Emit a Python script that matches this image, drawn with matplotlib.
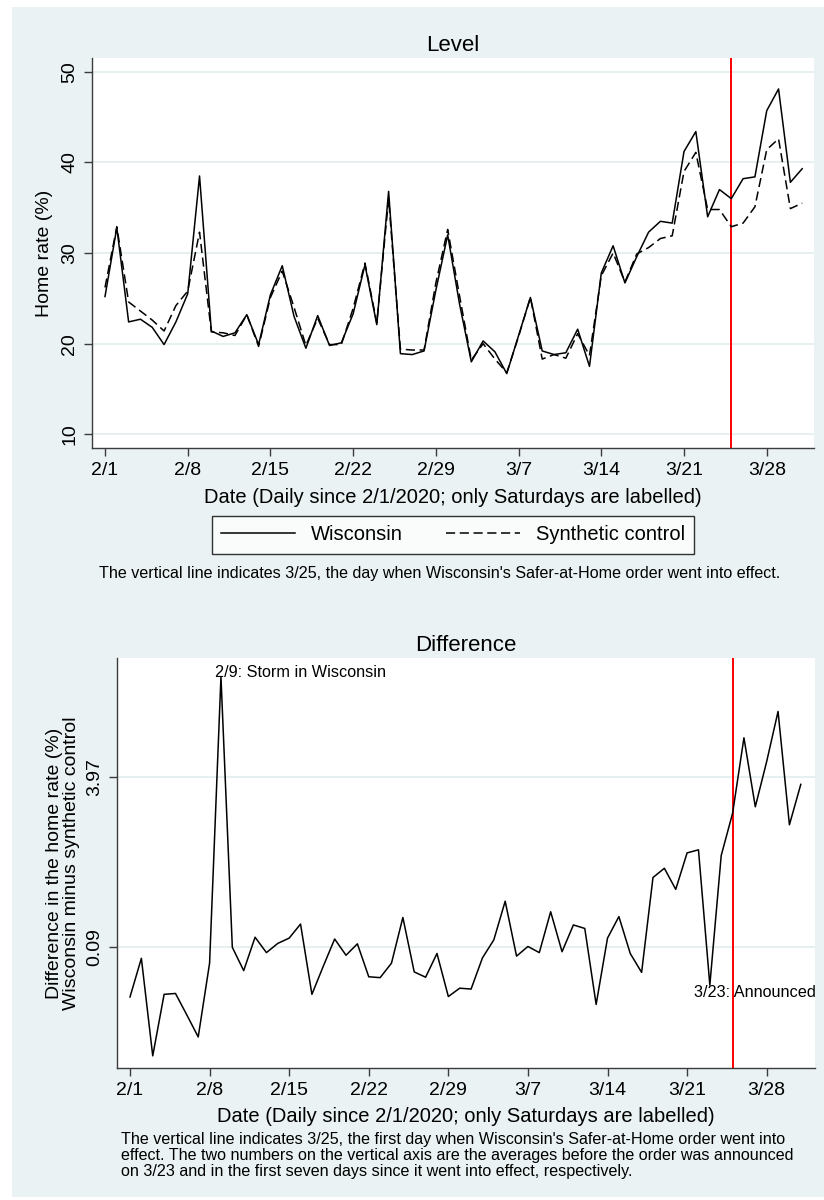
import numpy as np
import matplotlib
matplotlib.use('Agg')
import matplotlib.pyplot as plt
from matplotlib.patches import Rectangle

plt.rcParams['font.family'] = ['Liberation Sans', 'DejaVu Sans']

# days since 2/1/2020 (0 .. 59, i.e. 2/1 to 3/31)
days = np.arange(60)

# home rate (%), Wisconsin
wisconsin = [25.2, 32.8, 22.4, 22.7, 21.8, 19.9, 22.4, 25.5, 38.5, 21.4,
             20.8, 21.2, 23.2, 19.9, 25.4, 28.6, 23.0, 19.5, 23.1, 19.8,
             20.1, 23.3, 28.7, 22.1, 36.8, 18.9, 18.8, 19.2, 25.9, 32.0,
             24.4, 18.0, 20.3, 19.1, 16.7, 20.9, 25.1, 19.2, 18.8, 19.0,
             21.6, 17.5, 27.8, 30.8, 26.7, 29.6, 32.3, 33.5, 33.3, 41.2,
             43.4, 34.0, 37.0, 36.0, 38.2, 38.4, 45.7, 48.1, 37.8, 39.3]

# home rate (%), synthetic control
synthetic = [26.2, 32.9, 24.6, 23.6, 22.6, 21.4, 24.2, 25.8, 32.3, 21.3,
             21.2, 20.9, 23.2, 19.7, 25.1, 28.0, 24.0, 19.8, 22.8, 19.9,
             19.9, 23.9, 28.9, 22.3, 36.0, 19.4, 19.3, 19.3, 26.7, 32.6,
             25.3, 18.2, 20.0, 18.3, 16.8, 20.8, 25.1, 18.3, 18.8, 18.4,
             21.1, 18.7, 27.5, 30.0, 26.8, 29.9, 30.6, 31.6, 31.9, 39.0,
             41.1, 34.8, 34.8, 32.9, 33.3, 35.1, 41.4, 42.6, 34.9, 35.5]

# Wisconsin minus synthetic control
difference = [-1.04, -0.16, -2.38, -0.98, -0.96, -1.45, -1.95, -0.27, 6.25, 0.09,
              -0.44, 0.32, -0.03, 0.18, 0.30, 0.62, -0.98, -0.34, 0.28, -0.09,
              0.17, -0.58, -0.60, -0.27, 0.77, -0.47, -0.59, -0.05, -1.03, -0.84,
              -0.86, -0.15, 0.26, 1.14, -0.11, 0.11, -0.03, 0.90, -0.01, 0.60,
              0.52, -1.21, 0.30, 0.79, -0.05, -0.48, 1.68, 1.89, 1.41, 2.24,
              2.31, -0.77, 2.18, 3.14, 4.86, 3.29, 4.32, 5.46, 2.88, 3.80]

tick_days = [0, 7, 14, 21, 28, 35, 42, 49, 56]
tick_labels = ['2/1', '2/8', '2/15', '2/22', '2/29', '3/7', '3/14', '3/21', '3/28']
order_day = 53      # 3/25
level_ticks = [10, 20, 30, 40, 50]
diff_ticks = [0.09, 3.97]
diff_tick_labels = ['0.09', '3.97']

BG = '#EAF2F3'
GRID = '#E1EDEF'
AXC = '#3c3c3c'

fig = plt.figure(figsize=(8.24, 12), dpi=100)
fig.patch.set_facecolor('white')
fig.patches.append(Rectangle((12/824, 3/1200), 1 - 12/824, 1190/1200,
                             transform=fig.transFigure, facecolor=BG,
                             edgecolor='none', zorder=-10))


def style_axes(ax):
    ax.set_facecolor('white')
    for s in ['top', 'right']:
        ax.spines[s].set_visible(False)
    for s in ['left', 'bottom']:
        ax.spines[s].set_color(AXC)
        ax.spines[s].set_linewidth(1.0)
    ax.tick_params(axis='both', colors=AXC, labelcolor='black', length=6,
                   width=1.0, labelsize=14, pad=4)
    ax.set_xticks(tick_days)
    ax.set_xticklabels(tick_labels)
    ax.grid(axis='y', color=GRID, linewidth=1.2)
    ax.set_axisbelow(True)
    ax.axvline(order_day, color='red', linewidth=1.4, zorder=1)
    ax.set_xlabel('Date (Daily since 2/1/2020; only Saturdays are labelled)',
                  fontsize=14.5, labelpad=6)


# ---- Level panel
ax1 = fig.add_axes([92/824, 1 - 448.3/1200, 722/824, 390/1200])
style_axes(ax1)
ax1.plot(days, wisconsin, color='black', linewidth=1.1, label='Wisconsin', zorder=3)
ax1.plot(days, synthetic, color='black', linewidth=1.1, linestyle=(0, (6, 3)),
         label='Synthetic control', zorder=3)
ax1.set_xlim(-1.1, 60.0)
ax1.set_ylim(8.46, 51.48)
ax1.set_yticks(level_ticks)
ax1.set_yticklabels([str(t) for t in level_ticks], rotation=90, va='center')
ax1.set_ylabel('Home rate (%)', fontsize=14, labelpad=6)
ax1.set_title('Level', fontsize=16, pad=5)

leg = fig.legend(loc='center', bbox_to_anchor=(453/824, 1 - 535/1200), ncol=2,
                 fontsize=14.5, frameon=True, fancybox=False, edgecolor='black',
                 handlelength=3.7, columnspacing=2.1, borderpad=0.45,
                 handletextpad=0.8)
leg.get_frame().set_linewidth(1.0)

fig.text(440/824, 1 - 574/1200,
         "The vertical line indicates 3/25, the day when Wisconsin's "
         "Safer-at-Home order went into effect.",
         ha='center', va='center', fontsize=11.6)

# ---- Difference panel
ax2 = fig.add_axes([116.7/824, 1 - 1067.7/1200, 698.3/824, 409.4/1200])
style_axes(ax2)
ax2.plot(days, difference, color='black', linewidth=1.1, zorder=3)
ax2.set_xlim(-1.17, 60.25)
ax2.set_ylim(-2.65, 6.67)
ax2.set_yticks(diff_ticks)
ax2.set_yticklabels(diff_tick_labels, rotation=90, va='center')
ax2.set_ylabel('Difference in the home rate (%)\nWisconsin minus synthetic control',
               fontsize=14, labelpad=4, linespacing=1.05)
ax2.set_title('Difference', fontsize=16, pad=5)
ax2.text(7.5, 6.34, '2/9: Storm in Wisconsin', fontsize=11.7, ha='left', va='center')
ax2.text(49.6, -0.94, '3/23: Announced', fontsize=11.7, ha='left', va='center')

fig.text(121/824, 1 - 1132/1200,
         "The vertical line indicates 3/25, the first day when Wisconsin's "
         "Safer-at-Home order went into\neffect. The two numbers on the vertical "
         "axis are the averages before the order was announced\non 3/23 and in the "
         "first seven days since it went into effect, respectively.",
         ha='left', va='top', fontsize=11.6, linespacing=1.1)

fig.savefig('out.png', dpi=100, facecolor=fig.get_facecolor())
